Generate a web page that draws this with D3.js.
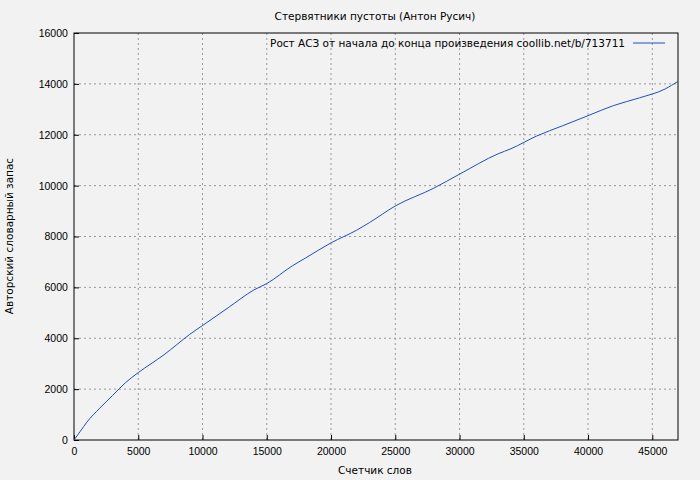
<!DOCTYPE html>
<html><head><meta charset="utf-8">
<script src="https://cdn.jsdelivr.net/npm/d3@7"></script>
<style>body{margin:0;background:#f2f2f2}svg{font-family:"DejaVu Sans",sans-serif}</style>
</head><body><svg id="c" width="700" height="480"></svg>
<script>
const xs=[0,500,1000,2000,3000,4000,5000,6000,7000,8000,9000,10000,12000,14000,15000,17000,18000,20000,22000,23000,25000,28000,30000,33000,34000,36000,38000,40000,42000,44000,46000,47000];
const ys=[0,350,700,1250,1750,2250,2650,3000,3350,3750,4150,4500,5200,5900,6150,6850,7150,7750,8250,8550,9200,9900,10450,11250,11450,11950,12350,12750,13150,13450,13800,14100];
const xTicks=[0,5000,10000,15000,20000,25000,30000,35000,40000,45000];
const yTicks=[0,2000,4000,6000,8000,10000,12000,14000,16000];
const FS=10.5;
const svg=d3.select("#c");
svg.append("rect").attr("width",700).attr("height",480).attr("fill","#f2f2f2");
const L=74,R=678,T=33,B=440;
const x=d3.scaleLinear().domain([0,47000]).range([L,R]);
const y=d3.scaleLinear().domain([0,16000]).range([B,T]);
const g=svg.append("g");
xTicks.slice(1).forEach(t=>g.append("line").attr("x1",x(t)).attr("x2",x(t)).attr("y1",T).attr("y2",B).attr("stroke","#999").attr("stroke-dasharray","2,3"));
yTicks.slice(1,-1).forEach(t=>g.append("line").attr("x1",L).attr("x2",R).attr("y1",y(t)).attr("y2",y(t)).attr("stroke","#999").attr("stroke-dasharray","2,3"));
svg.append("g").attr("transform",`translate(0,${B})`).call(d3.axisBottom(x).tickValues(xTicks).tickFormat(d3.format("d")).tickSizeInner(-5).tickSizeOuter(0)).call(a=>a.selectAll("text").attr("font-size",FS).attr("dy","1.1em"));
svg.append("g").attr("transform",`translate(${L},0)`).call(d3.axisLeft(y).tickValues(yTicks).tickFormat(d3.format("d")).tickSizeInner(-5).tickSizeOuter(0)).call(a=>a.selectAll("text").attr("font-size",FS).attr("dx","-0.3em"));
svg.selectAll(".domain").remove();
svg.append("rect").attr("x",L).attr("y",T).attr("width",R-L).attr("height",B-T).attr("fill","none").attr("stroke","#000");
svg.selectAll(".tick line").attr("stroke","#000");
svg.append("path").datum(xs.map((v,i)=>[v,ys[i]])).attr("d",d3.line().x(d=>x(d[0])).y(d=>y(d[1])).curve(d3.curveMonotoneX)).attr("fill","none").attr("stroke","#1f4fbf").attr("stroke-width",1);
svg.append("text").attr("x",375).attr("y",20).attr("text-anchor","middle").attr("font-size",FS).text("Стервятники пустоты (Антон Русич)");
svg.append("text").attr("x",375).attr("y",474).attr("text-anchor","middle").attr("font-size",FS).text("Счетчик слов");
svg.append("text").attr("transform","translate(13,236) rotate(-90)").attr("text-anchor","middle").attr("font-size",FS).text("Авторский словарный запас");
svg.append("text").attr("x",625).attr("y",47).attr("text-anchor","end").attr("font-size",FS).text("Рост АСЗ от начала до конца произведения coollib.net/b/713711");
svg.append("line").attr("x1",633).attr("x2",665).attr("y1",43).attr("y2",43).attr("stroke","#1f4fbf");
</script></body></html>
